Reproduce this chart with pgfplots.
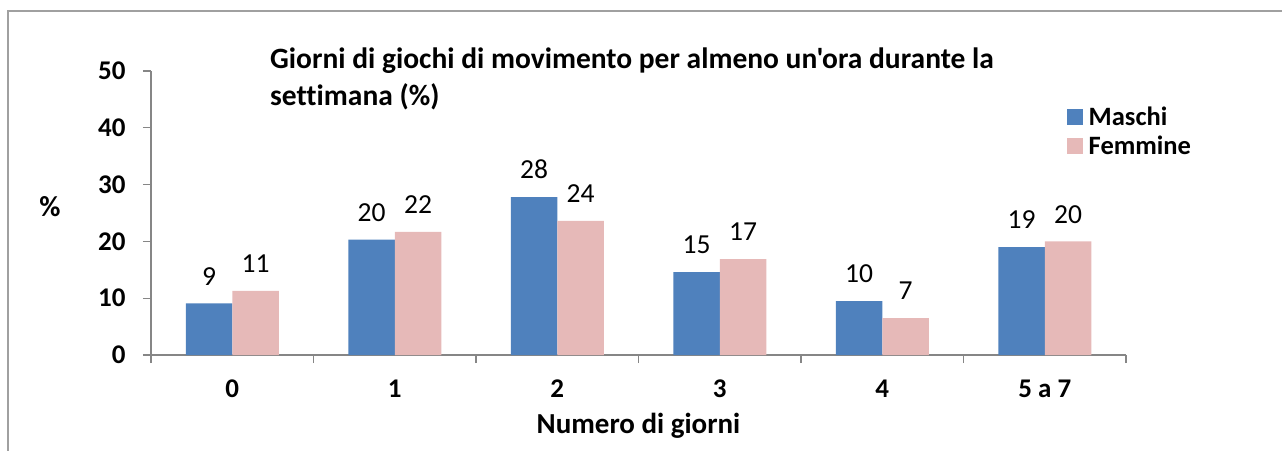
\documentclass[border=0pt]{standalone}
\usepackage{fontspec}
\setmainfont{Carlito}[Ligatures={TeXOff,NoCommon}]
\usepackage{pgfplots}
\pgfplotsset{compat=1.18}
\definecolor{maschi}{HTML}{4F81BD}
\definecolor{femmine}{HTML}{E6B9B8}
\definecolor{axgray}{HTML}{868686}
\definecolor{framegray}{HTML}{A0A0A0}
\begin{document}
\begin{tikzpicture}
\useasboundingbox (0pt,0pt) rectangle (1282pt,-450pt);
\draw[framegray, line width=1.3pt] (8pt,-455pt) -- (8pt,-11pt) -- (1290pt,-11pt);
\begin{axis}[
  at={(151pt,-355pt)}, anchor=south west,
  scale only axis, width=975pt, height=284pt,
  xmin=-0.5, xmax=5.5, ymin=0, ymax=50,
  axis lines*=left,
  axis line style={axgray, line width=1.3pt, -},
  tick style={axgray, line width=1.3pt},
  tick align=outside, major tick length=8pt,
  /pgf/number format/assume math mode=true,
  ytick={0,10,20,30,40,50},
  yticklabel style={font=\fontsize{27}{30}\selectfont\bfseries, xshift=-14pt},
  xtick={-0.5,0.5,...,5.5},
  xticklabels={,,,,,,},
  extra x ticks={0,1,2,3,4,5},
  extra x tick labels={0,1,2,3,4,5 a 7},
  extra x tick style={major tick length=0pt, xticklabel style={font=\fontsize{27}{30}\selectfont\bfseries, anchor=center, yshift=-34pt}},
  xlabel={Numero di giorni},
  xlabel style={at={(axis description cs:0.5,-0.248)}, anchor=center, font=\fontsize{29}{32}\selectfont\bfseries},
  ylabel={\%},
  ylabel style={rotate=-90, at={(axis description cs:-0.1036,0.521)}, anchor=center, font=\fontsize{29}{32}\selectfont\bfseries},
  title={Giorni di giochi di movimento per almeno un'ora durante la\\settimana (\%)},
  title style={at={(axis description cs:0.122,1.062)}, anchor=north west, align=left, inner sep=0pt, font=\fontsize{29.5}{37}\selectfont\bfseries},
  legend style={at={(axis description cs:0.9395,0.88)}, anchor=north west, draw=none, fill=none,
    font=\fontsize{26.5}{29}\selectfont\bfseries, inner sep=0pt, row sep=6pt,
    nodes={inner sep=1.5pt}, /tikz/every odd column/.append style={column sep=4pt}},
  legend cell align=left,
  legend image code/.code={\fill[#1] (0pt,-8pt) rectangle (16pt,8pt);},
  nodes near coords={\pgfplotspointmeta},
  point meta=explicit symbolic,
  every node near coord/.append style={font=\fontsize{27.5}{30}\selectfont, anchor=south, inner sep=0pt, yshift=18pt, black},
  clip=false,
]
\addplot[ybar, bar width=46.5pt, bar shift=-23.25pt, fill=maschi, draw=none,
  every node near coord/.append style={xshift=-23.25pt}]
  table[x=x, y=y, meta=l] {
x y l
0 9.1 9
1 20.3 20
2 27.8 28
3 14.6 15
4 9.5 10
5 19.0 19
};
\addlegendentry{Maschi}
\addplot[ybar, bar width=46.5pt, bar shift=23.25pt, fill=femmine, draw=none,
  every node near coord/.append style={xshift=23.25pt}]
  table[x=x, y=y, meta=l] {
x y l
0 11.3 11
1 21.7 22
2 23.6 24
3 16.9 17
4 6.5 7
5 20.0 20
};
\addlegendentry{Femmine}
\end{axis}
\end{tikzpicture}
\end{document}
